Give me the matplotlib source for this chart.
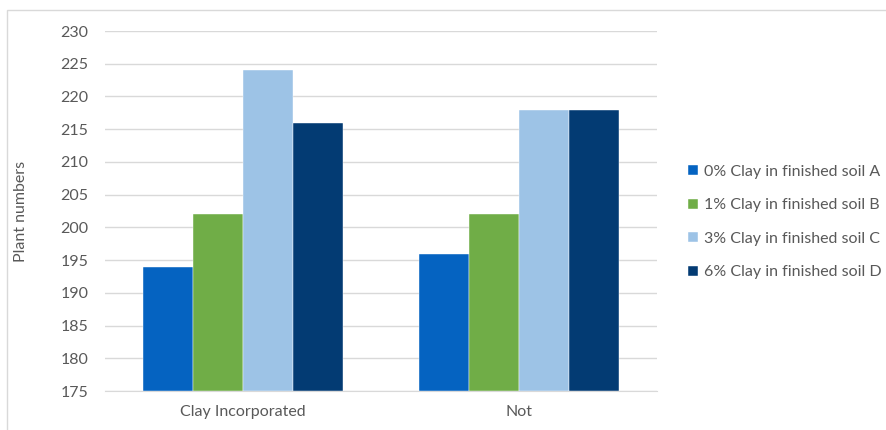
import numpy as np
import matplotlib.pyplot as plt
from matplotlib.patches import Rectangle

plt.rcParams['font.family'] = ['Lato', 'DejaVu Sans']

categories = ['Clay Incorporated', 'Not']
series = ['0% Clay in finished soil A', '1% Clay in finished soil B',
          '3% Clay in finished soil C', '6% Clay in finished soil D']
values = [
    [194, 196],
    [202, 202],
    [224, 218],
    [216, 218],
]
colors = ['#0563c1', '#70ad47', '#9dc3e6', '#033b73']

fig = plt.figure(figsize=(8.86, 4.30), dpi=100)
# outer chart border
fig.patches.append(Rectangle((7 / 886, -0.1), 1.0, 1 - 10 / 430 + 0.1,
                             transform=fig.transFigure, fill=False,
                             edgecolor='#d9d9d9', linewidth=1))

ax = fig.add_axes([105 / 886, 1 - 391 / 430, 552 / 886, 360 / 430])

x = np.arange(len(categories))
w = 50 / 276
for i, (name, vals) in enumerate(zip(series, values)):
    ax.bar(x + (i - 1.5) * w, np.array(vals) - 175, bottom=175, width=w,
           color=colors[i], label=name, zorder=3,
           edgecolor='white', linewidth=0.3)

ax.set_xlim(-0.5, 1.5)
ax.set_ylim(175, 230)
ax.set_yticks(np.arange(175, 231, 5))
ax.set_xticks(x)
ax.set_xticklabels(categories)
ax.grid(axis='y', color='#d9d9d9', linewidth=1, zorder=0)
for s in ['top', 'right', 'left']:
    ax.spines[s].set_visible(False)
ax.spines['bottom'].set_color('#d9d9d9')
ax.tick_params(axis='both', length=0, colors='#595959', labelsize=11.5)
ax.tick_params(axis='x', pad=10)
ax.tick_params(axis='y', pad=12)
ax.set_ylabel('Plant numbers', color='#595959', fontsize=11.5, labelpad=23)

fig.legend(loc='center left', bbox_to_anchor=(682 / 886, 1 - 222 / 430),
           frameon=False, fontsize=11.5, labelcolor='#595959',
           handlelength=0.6, handleheight=0.6, handletextpad=0.4,
           labelspacing=1.22, borderaxespad=0)

plt.savefig('out.png', dpi=100)
